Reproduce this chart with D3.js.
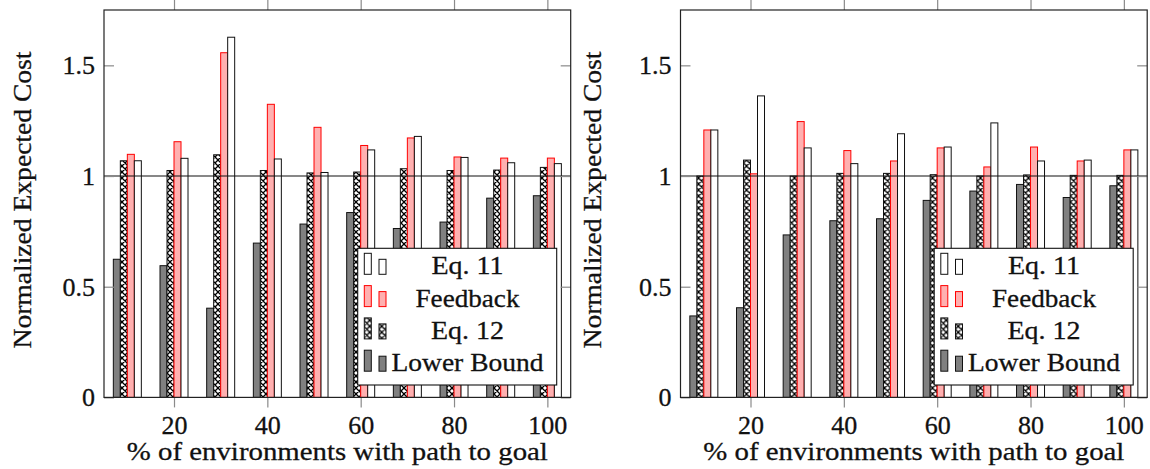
<html>
<head>
<script src="https://d3js.org/d3.v7.min.js"></script>
<style>
  body { margin: 0; background: #fff; }
  text { font-family: "Liberation Serif", "DejaVu Serif", serif; fill: #111; stroke: #111; stroke-width: 0.3px; }
</style>
</head>
<body>
<svg id="chart" width="1150" height="469"></svg>
<script>
// data
var groups = [10, 20, 30, 40, 50, 60, 70, 80, 90, 100];
var seriesNames = ["Lower Bound", "Eq. 12", "Feedback", "Eq. 11"];
var legendOrder = ["Eq. 11", "Feedback", "Eq. 12", "Lower Bound"];
var xTicks = [20, 40, 60, 80, 100];
var yTicks = [0, 0.5, 1, 1.5];

var leftLower    = [0.624, 0.595, 0.403, 0.697, 0.783, 0.835, 0.763, 0.792, 0.900, 0.911];
var leftEq12     = [1.069, 1.025, 1.096, 1.025, 1.014, 1.018, 1.033, 1.025, 1.027, 1.039];
var leftFeedback = [1.098, 1.155, 1.557, 1.324, 1.220, 1.138, 1.172, 1.086, 1.081, 1.081];
var leftEq11     = [1.069, 1.080, 1.627, 1.077, 1.016, 1.118, 1.179, 1.084, 1.060, 1.056];

var rightLower    = [0.368, 0.405, 0.734, 0.798, 0.807, 0.890, 0.932, 0.962, 0.903, 0.956];
var rightEq12     = [1.000, 1.072, 1.000, 1.012, 1.012, 1.006, 1.000, 1.005, 1.003, 1.003];
var rightFeedback = [1.208, 1.010, 1.246, 1.115, 1.068, 1.127, 1.041, 1.131, 1.068, 1.118];
var rightEq11     = [1.208, 1.362, 1.127, 1.056, 1.191, 1.131, 1.240, 1.068, 1.072, 1.118];

var xTitle = "% of environments with path to goal";
var yTitle = "Normalized Expected Cost";

// styles
var fills   = {"Lower Bound": "#808080", "Eq. 12": "url(#xhatch)", "Feedback": "#ffb0b0", "Eq. 11": "#ffffff"};
var strokes = {"Lower Bound": "#111", "Eq. 12": "#111", "Feedback": "#ff0000", "Eq. 11": "#111"};
var legendTextLen = {"Eq. 11": 72, "Feedback": 104, "Eq. 12": 73, "Lower Bound": 152};

var svg = d3.select("#chart");

// crosshatch pattern
var pat = svg.append("defs").append("pattern").attr("id", "xhatch")
  .attr("patternUnits", "userSpaceOnUse").attr("width", 6).attr("height", 6);
pat.append("rect").attr("width", 6).attr("height", 6).attr("fill", "#fff");
pat.append("path").attr("d", "M0,0L6,6M6,0L0,6M-1,5L1,7M5,-1L7,1M-1,1L1,-1M5,7L7,5")
  .attr("stroke", "#000").attr("stroke-width", 1.3);

var W = 466.7, H = 387.4, marginTop = 10;
var x = d3.scaleLinear().domain([5, 105]).range([0, W]);
var y = d3.scaleLinear().domain([0, 1.75]).range([H, 0]);
var bw = x(6.5) - x(5);
var inner = d3.scaleBand().domain(seriesNames).range([-2 * bw, 2 * bw]);

function drawPanel(left, titleX, data) {
  var g = svg.append("g").attr("transform", "translate(" + left + "," + marginTop + ")");

  seriesNames.forEach(function (s) {
    g.selectAll(null).data(data[s]).enter().append("rect")
      .attr("x", function (d, i) { return x(groups[i]) + inner(s); })
      .attr("y", function (d) { return y(d); })
      .attr("width", bw)
      .attr("height", function (d) { return y(0) - y(d); })
      .attr("fill", fills[s]).attr("stroke", strokes[s]).attr("stroke-width", 1);
  });

  // reference line at 1
  g.append("line").attr("x1", 0).attr("x2", W).attr("y1", y(1)).attr("y2", y(1))
    .attr("stroke", "#111").attr("stroke-width", 1.1);

  // axes
  var xb = g.append("g").attr("transform", "translate(0," + H + ")")
    .call(d3.axisBottom(x).tickValues(xTicks).tickSize(10).tickPadding(8).tickFormat(d3.format("")));
  var xt = g.append("g")
    .call(d3.axisTop(x).tickValues(xTicks).tickSize(10).tickFormat(""));
  var yl = g.append("g")
    .call(d3.axisLeft(y).tickValues(yTicks).tickSizeInner(-10).tickSizeOuter(0).tickPadding(9).tickFormat(d3.format("")));
  var yr = g.append("g").attr("transform", "translate(" + W + ",0)")
    .call(d3.axisRight(y).tickValues(yTicks).tickSizeInner(-10).tickSizeOuter(0).tickFormat(""));
  [xb, xt, yl, yr].forEach(function (a) {
    a.attr("font-family", null);
    a.select(".domain").remove();
    a.selectAll(".tick line").attr("stroke", "#8a8a8a").attr("stroke-width", 1.2);
    a.selectAll("text").attr("font-size", 26).attr("fill", "#111");
  });

  // frame
  g.append("rect").attr("x", 0).attr("y", 0).attr("width", W).attr("height", H)
    .attr("fill", "none").attr("stroke", "#222").attr("stroke-width", 1.2);

  // titles
  g.append("text").attr("x", W / 2).attr("y", 450)
    .attr("text-anchor", "middle").attr("font-size", 26)
    .attr("textLength", 421).attr("lengthAdjust", "spacingAndGlyphs").text(xTitle);
  svg.append("text").attr("transform", "translate(" + titleX + ",200) rotate(-90)")
    .attr("text-anchor", "middle").attr("font-size", 26)
    .attr("textLength", 297).attr("lengthAdjust", "spacingAndGlyphs").text(yTitle);

  // legend
  var lg = g.append("g").attr("transform", "translate(253.7,238.3)");
  lg.append("rect").attr("width", 199).attr("height", 136.7)
    .attr("fill", "#fff").attr("stroke", "#111").attr("stroke-width", 1.1);
  legendOrder.forEach(function (s, i) {
    var base = 26 + i * 32.3;
    lg.append("rect").attr("x", 6.6).attr("y", base - 21).attr("width", 7).attr("height", 21)
      .attr("fill", fills[s]).attr("stroke", strokes[s]).attr("stroke-width", 1);
    lg.append("rect").attr("x", 21.3).attr("y", base - 15).attr("width", 7).attr("height", 15)
      .attr("fill", fills[s]).attr("stroke", strokes[s]).attr("stroke-width", 1);
    lg.append("text").attr("x", 109.8).attr("y", base)
      .attr("text-anchor", "middle").attr("font-size", 26)
      .attr("textLength", legendTextLen[s]).attr("lengthAdjust", "spacingAndGlyphs").text(s);
  });
}

drawPanel(104, 31, {"Lower Bound": leftLower, "Eq. 12": leftEq12, "Feedback": leftFeedback, "Eq. 11": leftEq11});
drawPanel(680.5, 601, {"Lower Bound": rightLower, "Eq. 12": rightEq12, "Feedback": rightFeedback, "Eq. 11": rightEq11});
</script>
</body>
</html>
